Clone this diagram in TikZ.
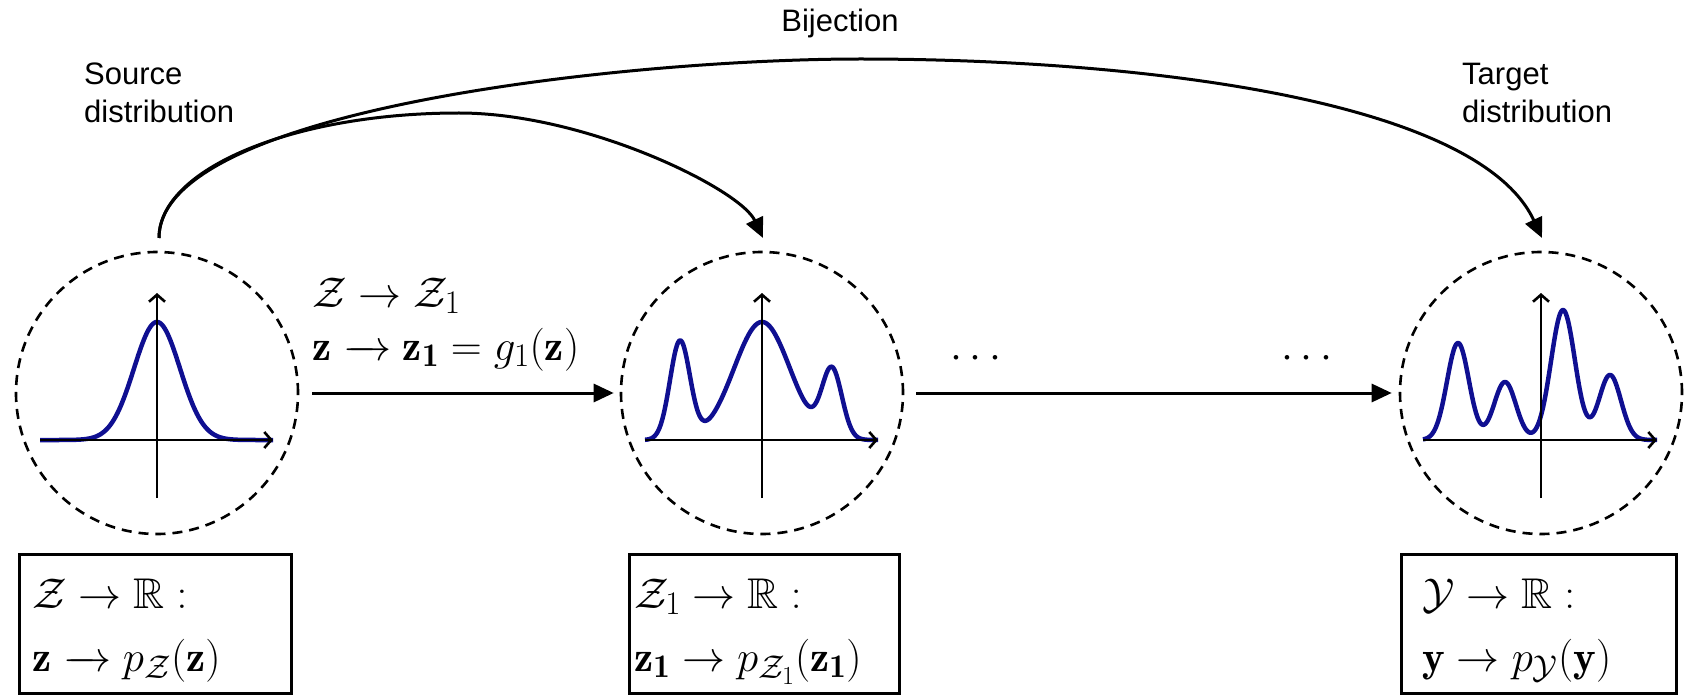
\RequirePackage{fix-cm}
\documentclass[tikz,border=0pt]{standalone}
\usepackage{amssymb}
\usepackage{fontspec}
\newfontfamily\arial{Liberation Sans}
\usetikzlibrary{arrows.meta}
\definecolor{curveblue}{RGB}{15,15,145}
\DeclareMathSizes{43}{43}{33}{26}
\newcommand{\farrow}{\mathrel{\relbar\mkern-12mu\rightarrow}}
\begin{document}
\begin{tikzpicture}[x=1pt,y=-1pt,
  declare function={gs(\u,\m,\s)=exp(max(-20,-0.5*((\u-\m)/\s)*((\u-\m)/\s)));},
  dist/.style={circle, draw, dash pattern=on 10pt off 7pt, line width=2.6pt, minimum size=282pt, inner sep=0pt},
  axis/.style={line width=2.6pt, -{Straight Barb[length=7pt,width=16pt]}},
  density/.style={draw=curveblue, line width=4.5pt, line join=round},
  flow/.style={line width=3pt, -{Triangle[length=20pt,width=18pt]}},
  fbox/.style={draw, line width=2.5pt, minimum height=139pt, anchor=north west, inner sep=0pt},
  mathlbl/.style={font=\fontsize{43}{50}\selectfont, inner sep=0pt, anchor=base west},
  txtlbl/.style={font=\arial\fontsize{31}{38}\selectfont, inner sep=0pt, align=left, text width=200pt, anchor=base west}]
\useasboundingbox (0,0) rectangle (1684,695);

% distribution circles
\node[dist] (src) at (157,393) {};
\node[dist] (mid) at (762,393) {};
\node[dist] (tgt) at (1541,393) {};

% densities
\draw[density] plot[domain=-117:116, samples=160, smooth] ({157+\x}, {440-118*gs(\x,0,23)});
\draw[density] plot[domain=-117:116, samples=220, smooth] ({762+\x}, {440-98*gs(\x,-82,10)-118*gs(\x,0,28)-68*gs(\x,70,10)});
\draw[density] plot[domain=-118:116, samples=240, smooth] ({1541+\x}, {440-97*gs(\x,-83,11)-58*gs(\x,-36,11)-130*gs(\x,22,12)-65*gs(\x,69,11)});

% axes
\draw[axis] (40,440) -- (273,440);
\draw[axis] (157,498) -- (157,293);
\draw[axis] (645,440) -- (878,440);
\draw[axis] (762,498) -- (762,293);
\draw[axis] (1423,440) -- (1657,440);
\draw[axis] (1541,498) -- (1541,293);

% straight flows
\draw[flow, shorten <=13pt, shorten >=6pt] (src) -- (mid);
\draw[flow, shorten <=12pt, shorten >=7pt] (mid) -- (tgt);

% curved flows
\coordinate (srcTop) at (159,238);
\coordinate (midTop) at (763,238);
\coordinate (tgtTop) at (1542,238);
\draw[flow] (srcTop) .. controls (159,169) and (293,113) .. (459,113) .. controls (586,113) and (740,189) .. (midTop);
\draw[flow] (srcTop) .. controls (159,108) and (634,59) .. (860,59) .. controls (1133,59) and (1477,98) .. (tgtTop);

% text labels
\node[txtlbl] (srcLbl) at (84,85) {Source\\distribution};
\node[txtlbl] (tgtLbl) at (1462,85) {Target\\distribution};
\node[font=\arial\fontsize{31}{38}\selectfont, inner sep=0pt, anchor=base] (bij) at (840,32) {Bijection};

% flow labels
\node[mathlbl] (mapA) at (312,307) {$\mathcal{Z} \rightarrow \mathcal{Z}_1$};
\node[mathlbl] (mapB) at (312,360) {$\mathbf{z} \farrow \mathbf{z_1} \mathrel{=} g_1(\mathbf{z})\,$};
\node[mathlbl, anchor=base] (dotsA) at (976,368) {$\cdots$};
\node[mathlbl, anchor=base] (dotsB) at (1307,368) {$\cdots$};

% boxes
\node[fbox, minimum width=272pt] (bsrc) at (18,553) {};
\node[fbox, minimum width=270pt] (bmid) at (628,553) {};
\node[fbox, minimum width=275pt] (btgt) at (1400,553) {};
\node[mathlbl] (bsrcA) at (32,608) {$\mathcal{Z} \rightarrow \mathbb{R}:$};
\node[mathlbl] (bsrcB) at (32,671) {$\mathbf{z} \farrow p_{\mathcal{Z}}(\mathbf{z})$};
\node[mathlbl] (bmidA) at (634,608) {$\mathcal{Z}_1 \rightarrow \mathbb{R}:$};
\node[mathlbl] (bmidB) at (634,671) {$\mathbf{z_1} \rightarrow p_{\mathcal{Z}_1}(\mathbf{z_1})$};
\node[mathlbl] (btgtA) at (1422,608) {$\mathcal{Y} \rightarrow \mathbb{R}:$};
\node[mathlbl] (btgtB) at (1422,671) {$\mathbf{y} \rightarrow p_{\mathcal{Y}}(\mathbf{y})$};
\end{tikzpicture}
\end{document}
